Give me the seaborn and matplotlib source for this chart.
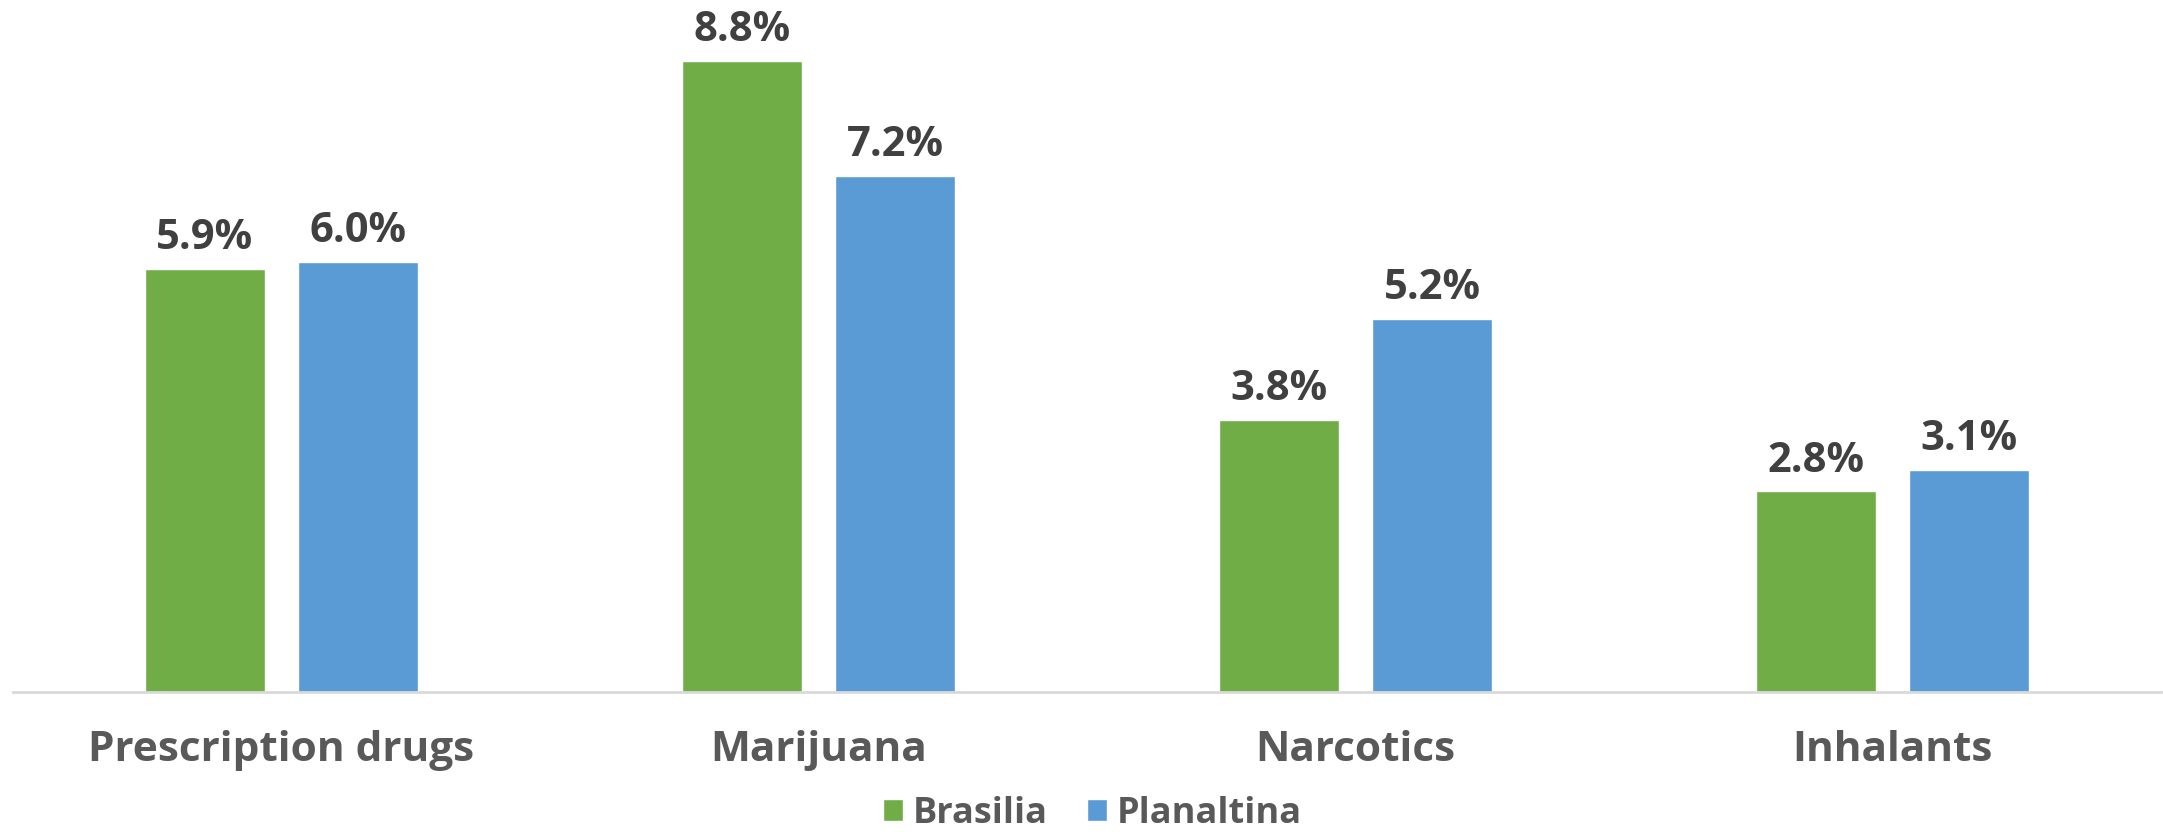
import pandas as pd
import matplotlib.pyplot as plt
import seaborn as sns

# Data
categories = ["Prescription drugs", "Marijuana", "Narcotics", "Inhalants"]
brasilia = [5.9, 8.8, 3.8, 2.8]
planaltina = [6.0, 7.2, 5.2, 3.1]
series_names = ["Brasilia", "Planaltina"]
colors = ["#70AD47", "#5B9BD5"]

df = pd.DataFrame({
    "category": categories * 2,
    "value": brasilia + planaltina,
    "city": [series_names[0]] * len(categories) + [series_names[1]] * len(categories),
})

sns.set_style("white")
plt.rcParams["font.family"] = ["Open Sans", "DejaVu Sans"]

fig = plt.figure(figsize=(21.63, 8.32), dpi=100)
ax = fig.add_axes([0.006, 0.1677, 0.993, 0.8323])

sns.barplot(
    data=df, x="category", y="value", hue="city",
    palette=colors, saturation=1, width=0.5704, gap=0.2164, ax=ax,
)

# value labels on top of each bar
for container in ax.containers:
    ax.bar_label(
        container, labels=[f"{v:.1f}%" for v in container.datavalues],
        padding=7, fontsize=30, fontweight="bold", color="#404040",
    )

ax.set_xlim(-0.5, 3.5)
ax.set_ylim(0, 9.645)
ax.set_xlabel("")
ax.set_ylabel("")
ax.set_yticks([])
ax.tick_params(axis="x", length=0, pad=27)
for lbl in ax.get_xticklabels():
    lbl.set_fontsize(30.5)
    lbl.set_fontweight("bold")
    lbl.set_color("#595959")

for side in ["top", "right", "left"]:
    ax.spines[side].set_visible(False)
ax.spines["bottom"].set_color("#D9D9D9")
ax.spines["bottom"].set_linewidth(2)

# legend at the bottom centre
handles, labels = ax.get_legend_handles_labels()
ax.get_legend().remove()
leg = fig.legend(
    handles, labels, loc="center", bbox_to_anchor=(0.505, 0.022),
    ncol=2, frameon=False, fontsize=26, handlelength=0.56, handleheight=0.56,
    handletextpad=0.25, columnspacing=1.1, borderpad=0,
)
for t in leg.get_texts():
    t.set_color("#595959")
    t.set_fontweight("bold")

fig.savefig("out.png", dpi=100)
